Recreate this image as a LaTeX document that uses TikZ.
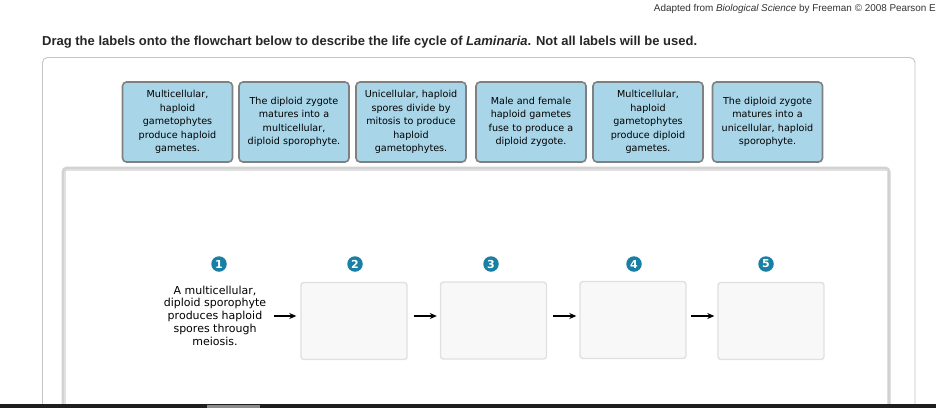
\documentclass[tikz,border=0pt]{standalone}
\usepackage{fontspec}
\setmainfont{DejaVu Sans}
\newfontfamily\arialfont{Liberation Sans}
\usetikzlibrary{arrows.meta}
\definecolor{cardblue}{HTML}{A8D5E8}
\definecolor{cardedge}{HTML}{808080}
\definecolor{outeredge}{HTML}{C4C4C4}
\definecolor{paneledge}{HTML}{D2D2D2}
\definecolor{dropfill}{HTML}{F8F8F8}
\definecolor{dropedge}{HTML}{E0E0E0}
\definecolor{numteal}{HTML}{1A7FA5}
\definecolor{barblack}{HTML}{1E1E1E}
\tikzset{
  card/.style={draw=cardedge, line width=1.6pt, fill=cardblue, rounded corners=4pt,
    minimum width=110pt, minimum height=80pt, text width=106pt, align=center,
    inner sep=0pt, font=\fontsize{9.6}{13.5}\selectfont},
  dropbox/.style={draw=dropedge, line width=1.4pt, fill=dropfill, rounded corners=3pt,
    minimum width=106pt, minimum height=77pt, inner sep=0pt},
  numdot/.style={circle, fill=numteal, text=white, minimum size=15.5pt, inner sep=0pt,
    font=\fontsize{11}{11}\selectfont\bfseries},
  arr/.style={-{Stealth[length=7pt,width=6pt]}, line width=1.4pt, black},
}
\begin{document}
\begin{tikzpicture}[x=1pt,y=-1pt]
\useasboundingbox (0,0) rectangle (936,408);
\fill[white] (0,0) rectangle (936,408);
% credit line
\node[anchor=base east, inner sep=0pt, font=\arialfont\fontsize{9.9}{11}\selectfont, text=black!80] (credit) at (936,11)
  {Adapted from \textit{Biological Science} by Freeman © 2008 Pearson E};
% title
\node[anchor=base west, inner sep=0pt, font=\arialfont\fontsize{13}{15}\selectfont\bfseries, text=black!85] (title) at (42,45)
  {Drag the labels onto the flowchart below to describe the life cycle of \textit{Laminaria}. Not all labels will be used.};
% outer panel
\draw[outeredge, line width=0.9pt, rounded corners=5pt] (42.5,404) -- (42.5,57.5) -- (915,57.5) -- (915,404);
% drop panel
\draw[paneledge, line width=3pt, rounded corners=4pt, fill=white] (63,404) -- (63,168) -- (889,168) -- (889,404);
\draw[black!12, line width=0.8pt] (65,404) -- (65,170) -- (887,170) -- (887,404);
% cards
\node[card] (c1) at (177.5,122) {Multicellular,\\ haploid\\ gametophytes\\ produce haploid\\ gametes.};
\node[card] (c2) at (294,122) {The diploid zygote\\ matures into a\\ multicellular,\\ diploid sporophyte.};
\node[card] (c3) at (411,122) {Unicellular, haploid\\ spores divide by\\ mitosis to produce\\ haploid\\ gametophytes.};
\node[card] (c4) at (531,122) {Male and female\\ haploid gametes\\ fuse to produce a\\ diploid zygote.};
\node[card] (c5) at (648,122) {Multicellular,\\ haploid\\ gametophytes\\ produce diploid\\ gametes.};
\node[card] (c6) at (767.5,122) {The diploid zygote\\ matures into a\\ unicellular, haploid\\ sporophyte.};
% numbers
\node[numdot] (n1) at (219,264) {1};
\node[numdot] (n2) at (355,264) {2};
\node[numdot] (n3) at (491,264) {3};
\node[numdot] (n4) at (634,264) {4};
\node[numdot] (n5) at (766,264) {5};
% step 1 text
\node[align=center, inner sep=0pt, font=\fontsize{11}{12.8}\selectfont] (s1) at (215,315.5)
  {A multicellular,\\ diploid sporophyte\\ produces haploid\\ spores through\\ meiosis.};
% drop boxes
\node[dropbox] (b2) at (354,321) {};
\node[dropbox] (b3) at (493.5,320.5) {};
\node[dropbox] (b4) at (633,320) {};
\node[dropbox] (b5) at (771,321) {};
% arrows
\coordinate (a1s) at (274,316);
\draw[arr, shorten >=4pt] (a1s) -- (b2.west |- a1s);
\draw[arr, shorten <=6pt, shorten >=3pt] (b2.east |- a1s) -- (b3.west |- a1s);
\draw[arr, shorten <=6pt, shorten >=3pt] (b3.east |- a1s) -- (b4.west |- a1s);
\draw[arr, shorten <=4pt, shorten >=3pt] (b4.east |- a1s) -- (b5.west |- a1s);
% bottom bar
\fill[barblack] (0,404) rectangle (936,408);
\fill[black!45] (207,404.5) rectangle (260,408);
\end{tikzpicture}
\end{document}
